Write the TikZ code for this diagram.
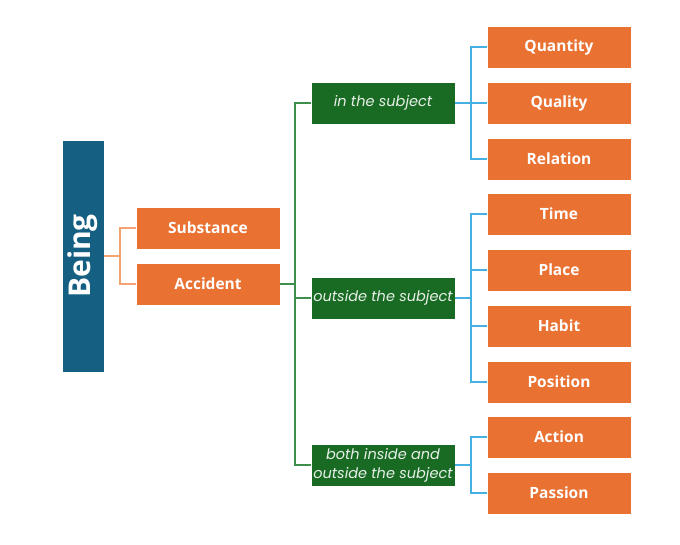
\documentclass[tikz,border=0pt]{standalone}
\usepackage{fontspec}
\setmainfont{Open Sans}
\newfontfamily\poppins{Poppins}
\usetikzlibrary{positioning}
\definecolor{beingblue}{HTML}{156082}
\definecolor{catorange}{HTML}{E97132}
\definecolor{subgreen}{HTML}{196B24}
\definecolor{linegreen}{HTML}{3E8E4C}
\definecolor{lineorange}{HTML}{F2A273}
\definecolor{lineblue}{HTML}{45B0E1}
\tikzset{
  catbox/.style={draw=white, line width=0.6pt, fill=catorange, text=white, font=\bfseries\fontsize{15.5}{18}\selectfont,
    minimum width=144pt, minimum height=42pt, inner sep=0pt},
  wherebox/.style={draw=white, line width=0.6pt, fill=subgreen, text=white!90!subgreen, font=\poppins\itshape\fontsize{14.5}{19}\selectfont,
    minimum width=144pt, minimum height=42pt, inner sep=0pt, align=center},
  link/.style={line width=1.8pt}
}
\begin{document}
\begin{tikzpicture}[x=1pt, y=-1pt]
  \useasboundingbox (0,0) rectangle (680,545);
  % root
  \node[draw=white, line width=0.6pt, fill=beingblue, text=white, minimum width=42pt, minimum height=232pt, inner sep=0pt,
    font=\bfseries\fontsize{30}{34}\selectfont] (being) at (83,256) {\rotatebox{90}{Being}};
  % first division
  \node[catbox] (substance) at (208,228) {Substance};
  \node[catbox] (accident) at (208,284) {Accident};
  % where the accident is
  \node[wherebox] (inside) at (383,103) {in the subject};
  \node[wherebox] (outside) at (383,298) {outside the subject};
  \node[wherebox] (both) at (383,465) {both inside and\\outside the subject};
  % categories
  \node[catbox] (quantity) at (559,47) {Quantity};
  \node[catbox] (quality) at (559,103) {Quality};
  \node[catbox] (relation) at (559,159) {Relation};
  \node[catbox] (time) at (559,214) {Time};
  \node[catbox] (place) at (559,270) {Place};
  \node[catbox] (habit) at (559,326) {Habit};
  \node[catbox] (position) at (559,382) {Position};
  \node[catbox] (action) at (559,437) {Action};
  \node[catbox] (passion) at (559,493) {Passion};
  % brackets
  \draw[link, lineorange] (being.east) -- ++(16,0) coordinate (orspine) |- (substance.west);
  \draw[link, lineorange] (orspine) |- (accident.west);
  \draw[link, linegreen] (accident.east) -- ++(15,0) coordinate (grspine);
  \foreach \n in {inside, outside, both}
    \draw[link, linegreen] (grspine) |- (\n.west);
  \draw[link, lineblue] (inside.east) -- ++(16,0) coordinate (bl1);
  \foreach \n in {quantity, quality, relation}
    \draw[link, lineblue] (bl1) |- (\n.west);
  \draw[link, lineblue] (outside.east) -- ++(16,0) coordinate (bl2);
  \foreach \n in {time, place, habit, position}
    \draw[link, lineblue] (bl2) |- (\n.west);
  \draw[link, lineblue] (both.east) -- ++(16,0) coordinate (bl3);
  \foreach \n in {action, passion}
    \draw[link, lineblue] (bl3) |- (\n.west);
\end{tikzpicture}
\end{document}
